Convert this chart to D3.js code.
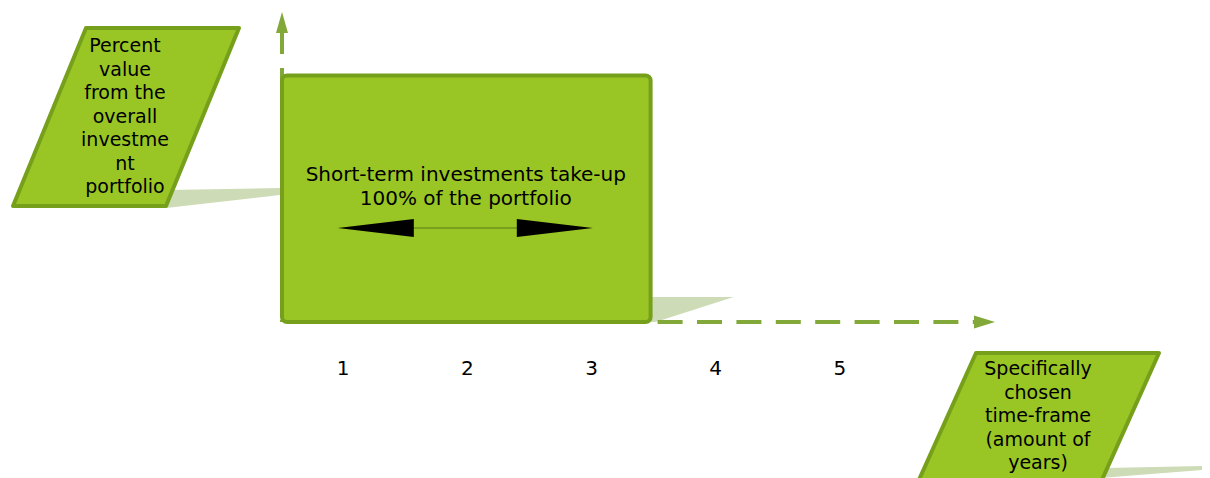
<!DOCTYPE html>
<html>
<head>
<meta charset="utf-8">
<script src="https://cdn.jsdelivr.net/npm/d3@7"></script>
<style>
  body { margin: 0; background: #fff; }
  svg { display: block; font-family: "DejaVu Sans", Verdana, sans-serif; }
</style>
</head>
<body>
<div class="svgContainer"></div>
<script>
var w = 1210;
var h = 478;

// data
var years = [1, 2, 3, 4, 5];
var shortTermYears = 3;
var shortTermPercent = 100;
var boxLines = ["Short-term investments take-up", "100% of the portfolio"];
var yLabelLines = ["Percent", "value", "from the", "overall", "investme", "nt", "portfolio"];
var xLabelLines = ["Specifically", "chosen", "time-frame", "(amount of", "years)"];

var fillGreen = "#99c624";
var strokeGreen = "#76a01c";
var axisGreen = "#82a83a";
var shadow = "#cddbb6";

var svg = d3.select(".svgContainer")
            .append("svg")
            .attr("width", w)
            .attr("height", h);

var xScale = d3.scaleLinear()
               .domain([0, 5])
               .range([281, 902]);

var yScale = d3.scaleLinear()
               .domain([0, 125])
               .range([322, 12]);

// shadows (drawn first)
var x0 = xScale(0), x3 = xScale(shortTermYears) - 3, y0 = yScale(0), y100 = yScale(shortTermPercent);

svg.append("polygon")
   .attr("points", [[x3, y0 - 25], [x3 + 83, y0 - 25], [x3 + 5, y0], [x3, y0]].join(" "))
   .attr("fill", shadow);

svg.append("polygon")
   .attr("points", "168,190 280,188 280,195 166,208")
   .attr("fill", shadow);

svg.append("polygon")
   .attr("points", "1106,468 1202,466 1202,470 1100,478")
   .attr("fill", shadow);

// y axis (dashed with arrow)
svg.append("line")
   .attr("x1", x0 + 1).attr("x2", x0 + 1)
   .attr("y1", yScale(125) + 20).attr("y2", y0)
   .attr("stroke", axisGreen)
   .attr("stroke-width", 4)
   .attr("stroke-dasharray", "22,14");

svg.append("path")
   .attr("d", "M" + (x0 + 1) + "," + yScale(125) + " L" + (x0 + 7) + "," + (yScale(125) + 21) + " L" + (x0 - 5) + "," + (yScale(125) + 21) + "Z")
   .attr("fill", axisGreen);

// x axis (dashed with arrow)
var xEnd = 995;
svg.append("line")
   .attr("x1", x3 + 7).attr("x2", xEnd - 17)
   .attr("y1", y0).attr("y2", y0)
   .attr("stroke", axisGreen)
   .attr("stroke-width", 4)
   .attr("stroke-dasharray", "25,14.4");

svg.append("path")
   .attr("d", "M" + xEnd + "," + y0 + " L" + (xEnd - 21) + "," + (y0 - 6.5) + " L" + (xEnd - 21) + "," + (y0 + 6.5) + "Z")
   .attr("fill", axisGreen);

// main block
svg.append("rect")
   .attr("x", x0 + 1)
   .attr("y", y100 + 1.5)
   .attr("width", x3 - x0 - 1)
   .attr("height", y0 - y100 - 1.5)
   .attr("rx", 5)
   .attr("fill", fillGreen)
   .attr("stroke", strokeGreen)
   .attr("stroke-width", 4);

var cx = (x0 + x3) / 2;

svg.selectAll(".boxText")
   .data(boxLines)
   .enter()
   .append("text")
   .attr("class", "boxText")
   .attr("x", cx)
   .attr("y", (d, i) => 181 + i * 24)
   .attr("text-anchor", "middle")
   .attr("font-size", 20)
   .attr("fill", "#000")
   .text(d => d);

// double arrow in the box
var ay = 228;
svg.append("line")
   .attr("x1", cx - 90).attr("x2", cx + 90)
   .attr("y1", ay).attr("y2", ay)
   .attr("stroke", "#5b7d16")
   .attr("stroke-width", 1);

svg.append("path")
   .attr("d", "M" + (cx - 128) + "," + ay + " L" + (cx - 52) + "," + (ay - 9) + " L" + (cx - 52) + "," + (ay + 9) + "Z")
   .attr("fill", "#000");

svg.append("path")
   .attr("d", "M" + (cx + 127) + "," + ay + " L" + (cx + 51) + "," + (ay - 9) + " L" + (cx + 51) + "," + (ay + 9) + "Z")
   .attr("fill", "#000");

// tick labels
svg.selectAll(".tick")
   .data(years)
   .enter()
   .append("text")
   .attr("class", "tick")
   .attr("x", d => xScale(d - 0.5))
   .attr("y", 375)
   .attr("text-anchor", "middle")
   .attr("font-size", 20)
   .attr("fill", "#000")
   .text(d => d);

// parallelogram labels
function para(pts, lines, tx, ty) {
    svg.append("polygon")
       .attr("points", pts)
       .attr("fill", fillGreen)
       .attr("stroke", strokeGreen)
       .attr("stroke-width", 4)
       .attr("stroke-linejoin", "round");

    svg.selectAll(null)
       .data(lines)
       .enter()
       .append("text")
       .attr("x", tx)
       .attr("y", (d, i) => ty + i * 23.5)
       .attr("text-anchor", "middle")
       .attr("font-size", 19)
       .attr("fill", "#000")
       .text(d => d);
}

para("86,28 239,28 166,206 13,206", yLabelLines, 125, 52);
para("976,353 1159,353 1101,482 918,482", xLabelLines, 1038, 375);
</script>
</body>
</html>
